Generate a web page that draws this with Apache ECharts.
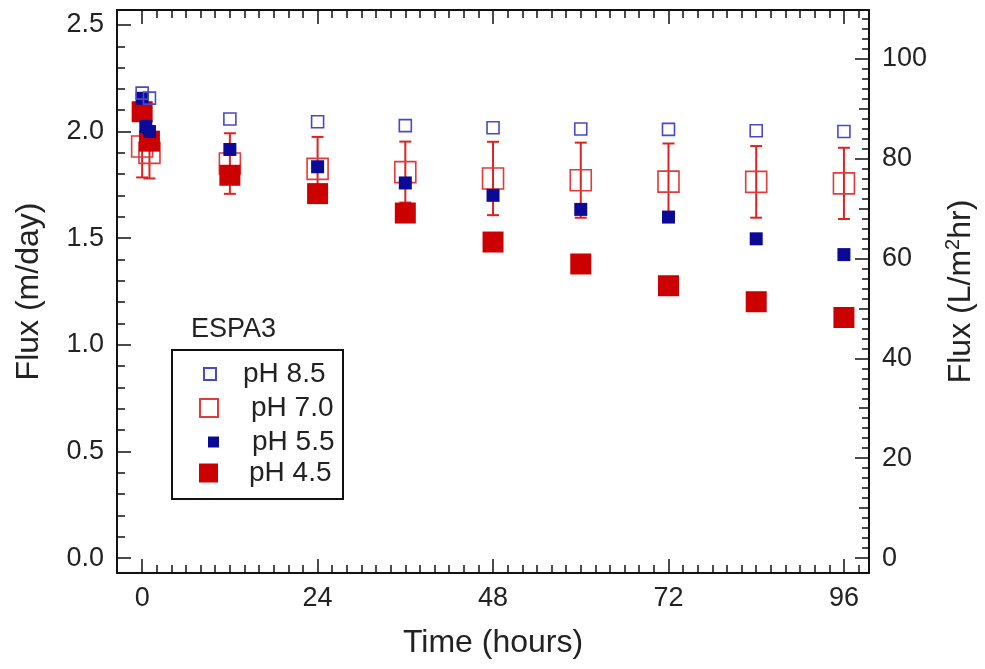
<!DOCTYPE html>
<html>
<head>
<meta charset="utf-8">
<script src="https://cdn.jsdelivr.net/npm/echarts@6/dist/echarts.min.js"></script>
<style>
html,body{margin:0;padding:0;background:#fff;}
#chart{width:985px;height:669px;}
</style>
</head>
<body>
<div id="chart"></div>
<script>
// ---- data ----
const seriesNames = ['pH 8.5', 'pH 7.0', 'pH 5.5', 'pH 4.5'];

const ph85Time = [0, 1, 12, 24, 36, 48, 60, 72, 84, 96];
const ph85Flux = [2.18, 2.157, 2.059, 2.046, 2.028, 2.018, 2.012, 2.010, 2.004, 2.000];

const ph70Time = [0, 1, 12, 24, 36, 48, 60, 72, 84, 96];
const ph70Flux = [1.93, 1.90, 1.85, 1.825, 1.81, 1.78, 1.772, 1.765, 1.764, 1.757];
const ph70Err  = [0.145, 0.12, 0.142, 0.15, 0.143, 0.172, 0.176, 0.179, 0.168, 0.167];

const ph55Time = [0, 0.5, 1, 12, 24, 36, 48, 60, 72, 84, 96];
const ph55Flux = [2.156, 2.024, 2.0, 1.916, 1.835, 1.759, 1.701, 1.635, 1.599, 1.497, 1.423];

const ph45Time = [0, 1, 12, 24, 36, 48, 60, 72, 84, 96];
const ph45Flux = [2.093, 1.955, 1.795, 1.709, 1.618, 1.482, 1.379, 1.277, 1.202, 1.128];

const xTicks = [0, 24, 48, 72, 96];
const yLeftTicks = [0, 0.5, 1.0, 1.5, 2.0, 2.5];
const yRightTicks = [0, 20, 40, 60, 80, 100];

const legendTitle = 'ESPA3';

// minor tick positions (axis decoration only)
const xMinor = []; for (let v = 0; v <= 98; v += 2) xMinor.push(v);
const yLeftMinor = []; for (let i = 0; i <= 25; i++) yLeftMinor.push(+(i * 0.1).toFixed(1));
const yRightMinor = []; for (let v = 0; v <= 108; v += 2) yRightMinor.push(v);
const yRightMid = [10, 30, 50, 70, 90];

// ---- helpers ----
const FONT = 'Liberation Sans';
const zip = (a, b) => a.map((t, i) => [t, b[i]]);

const X_MIN = -3.44, X_MAX = 99.43;
const YL_MIN = -0.07, YL_MAX = 2.57;
const RATIO = 42.7;
const YR_MIN = YL_MIN * RATIO, YR_MAX = YL_MAX * RATIO;

const lineStyle = { color: '#111', width: 2 };
const TICK_FS = 27;
const TITLE_FS = 32;

function xAxisDef(pos, values, len, showLine, showLabel, withName) {
  const ax = {
    type: 'value', position: pos, min: X_MIN, max: X_MAX,
    axisLine: { show: showLine, onZero: false, lineStyle },
    axisTick: { show: true, inside: true, length: len, customValues: values, lineStyle: { color: '#111', width: 1.5 } },
    axisLabel: { show: showLabel, customValues: values, fontSize: TICK_FS, fontFamily: FONT, color: '#222', margin: 12 },
    splitLine: { show: false }
  };
  if (withName) {
    ax.name = 'Time (hours)';
    ax.nameLocation = 'middle';
    ax.nameGap = 54;
    ax.nameTextStyle = { fontSize: TITLE_FS, fontFamily: FONT, color: '#222' };
  }
  return ax;
}

function yAxisDef(pos, min, max, values, len, showLine, showLabel, fmt) {
  return {
    type: 'value', position: pos, min: min, max: max,
    axisLine: { show: showLine, onZero: false, lineStyle },
    axisTick: { show: true, inside: true, length: len, customValues: values, lineStyle: { color: '#111', width: 1.5 } },
    axisLabel: { show: showLabel, customValues: values, fontSize: TICK_FS, fontFamily: FONT, color: '#222', margin: 13, formatter: fmt },
    splitLine: { show: false }
  };
}

const yLeft = yAxisDef('left', YL_MIN, YL_MAX, yLeftTicks, 14, true, true, v => v.toFixed(1));
yLeft.name = 'Flux (m/day)';
yLeft.nameLocation = 'middle';
yLeft.nameRotate = 90;
yLeft.nameGap = 72;
yLeft.nameTextStyle = { fontSize: TITLE_FS, fontFamily: FONT, color: '#222' };

const yRight = yAxisDef('right', YR_MIN, YR_MAX, yRightTicks, 14, true, true, v => String(v));
yRight.name = '{a|Flux (L/m}{s|2}{a|hr)}';
yRight.nameLocation = 'middle';
yRight.nameRotate = 90;
yRight.nameGap = 74;
yRight.nameTextStyle = {
  fontSize: TITLE_FS, fontFamily: FONT, color: '#222',
  rich: {
    a: { fontSize: TITLE_FS, fontFamily: FONT, color: '#222' },
    s: { fontSize: 20, fontFamily: FONT, color: '#222', padding: [0, 0, 16, 0] }
  }
};

const blueFill = '#0a0a96';
const blueLine = '#4848c8';
const redFill = '#cc0000';
const redLine = '#e03a3a';

const option = {
  backgroundColor: '#fff',
  animation: false,
  grid: { left: 117, right: 108, top: 10, bottom: 96, containLabel: false },
  xAxis: [
    xAxisDef('bottom', xTicks, 14, true, true, true),
    xAxisDef('bottom', xMinor, 8, false, false, false),
    xAxisDef('top', xTicks, 14, true, false, false),
    xAxisDef('top', xMinor, 8, false, false, false)
  ],
  yAxis: [
    yLeft,
    yAxisDef('left', YL_MIN, YL_MAX, yLeftMinor, 8, false, false),
    yRight,
    yAxisDef('right', YR_MIN, YR_MAX, yRightMinor, 7, false, false),
    yAxisDef('right', YR_MIN, YR_MAX, yRightMid, 10, false, false)
  ],
  graphic: [
    { type: 'rect', z: 100, shape: { x: 172, y: 350, width: 171, height: 149 }, style: { fill: 'none', stroke: '#111', lineWidth: 2 } },
    { type: 'text', z: 100, left: 191, top: 316, style: { text: legendTitle, font: '27px "Liberation Sans"', fill: '#222' } }
  ],
  legend: [
    { data: [seriesNames[0]], selectedMode: false, padding: 0, left: 203, top: 359, itemWidth: 12, itemHeight: 12,
      textStyle: { fontSize: 28, fontFamily: FONT, color: '#222', lineHeight: 30, padding: [0, 0, 0, 22] } },
    { data: [seriesNames[1]], selectedMode: false, padding: 0, left: 199, top: 393, itemWidth: 18, itemHeight: 18,
      textStyle: { fontSize: 28, fontFamily: FONT, color: '#222', lineHeight: 30, padding: [0, 0, 0, 28] } },
    { data: [seriesNames[2]], selectedMode: false, padding: 0, left: 208, top: 427, itemWidth: 11, itemHeight: 11,
      textStyle: { fontSize: 28, fontFamily: FONT, color: '#222', lineHeight: 30, padding: [0, 0, 0, 28] } },
    { data: [seriesNames[3]], selectedMode: false, padding: 0, left: 199, top: 458, itemWidth: 19, itemHeight: 19,
      textStyle: { fontSize: 28, fontFamily: FONT, color: '#222', lineHeight: 30, padding: [0, 0, 0, 26] } }
  ],
  series: [
    {
      type: 'custom', name: 'err', xAxisIndex: 0, yAxisIndex: 0, z: 2,
      data: ph70Time.map((t, i) => [t, ph70Flux[i] - ph70Err[i], ph70Flux[i] + ph70Err[i]]),
      encode: { x: 0, y: [1, 2] },
      renderItem: function (params, api) {
        const x = api.value(0);
        const lo = api.coord([x, api.value(1)]);
        const hi = api.coord([x, api.value(2)]);
        const w = 6;
        const st = { stroke: '#dd2222', lineWidth: 2 };
        return {
          type: 'group',
          children: [
            { type: 'line', shape: { x1: hi[0], y1: hi[1], x2: lo[0], y2: lo[1] }, style: st },
            { type: 'line', shape: { x1: hi[0] - w, y1: hi[1], x2: hi[0] + w, y2: hi[1] }, style: st },
            { type: 'line', shape: { x1: lo[0] - w, y1: lo[1], x2: lo[0] + w, y2: lo[1] }, style: st }
          ]
        };
      }
    },
    {
      type: 'scatter', name: seriesNames[1], xAxisIndex: 0, yAxisIndex: 0, z: 3,
      symbol: 'rect', symbolSize: 21,
      itemStyle: { color: 'rgba(255,255,255,0)', borderColor: redLine, borderWidth: 1.6, opacity: 1 },
      data: zip(ph70Time, ph70Flux)
    },
    {
      type: 'scatter', name: seriesNames[3], xAxisIndex: 0, yAxisIndex: 0, z: 4,
      symbol: 'rect', symbolSize: 21,
      itemStyle: { color: redFill, opacity: 1 },
      data: zip(ph45Time, ph45Flux)
    },
    {
      type: 'scatter', name: seriesNames[2], xAxisIndex: 0, yAxisIndex: 0, z: 5,
      symbol: 'rect', symbolSize: 13,
      itemStyle: { color: blueFill, opacity: 1 },
      data: zip(ph55Time, ph55Flux)
    },
    {
      type: 'scatter', name: seriesNames[0], xAxisIndex: 0, yAxisIndex: 0, z: 6,
      symbol: 'rect', symbolSize: 12,
      itemStyle: { color: 'rgba(255,255,255,0)', borderColor: blueLine, borderWidth: 1.6, opacity: 1 },
      data: zip(ph85Time, ph85Flux)
    }
  ]
};

const chart = echarts.init(document.getElementById('chart'), null, { renderer: 'canvas' });
chart.setOption(option);
</script>
</body>
</html>
